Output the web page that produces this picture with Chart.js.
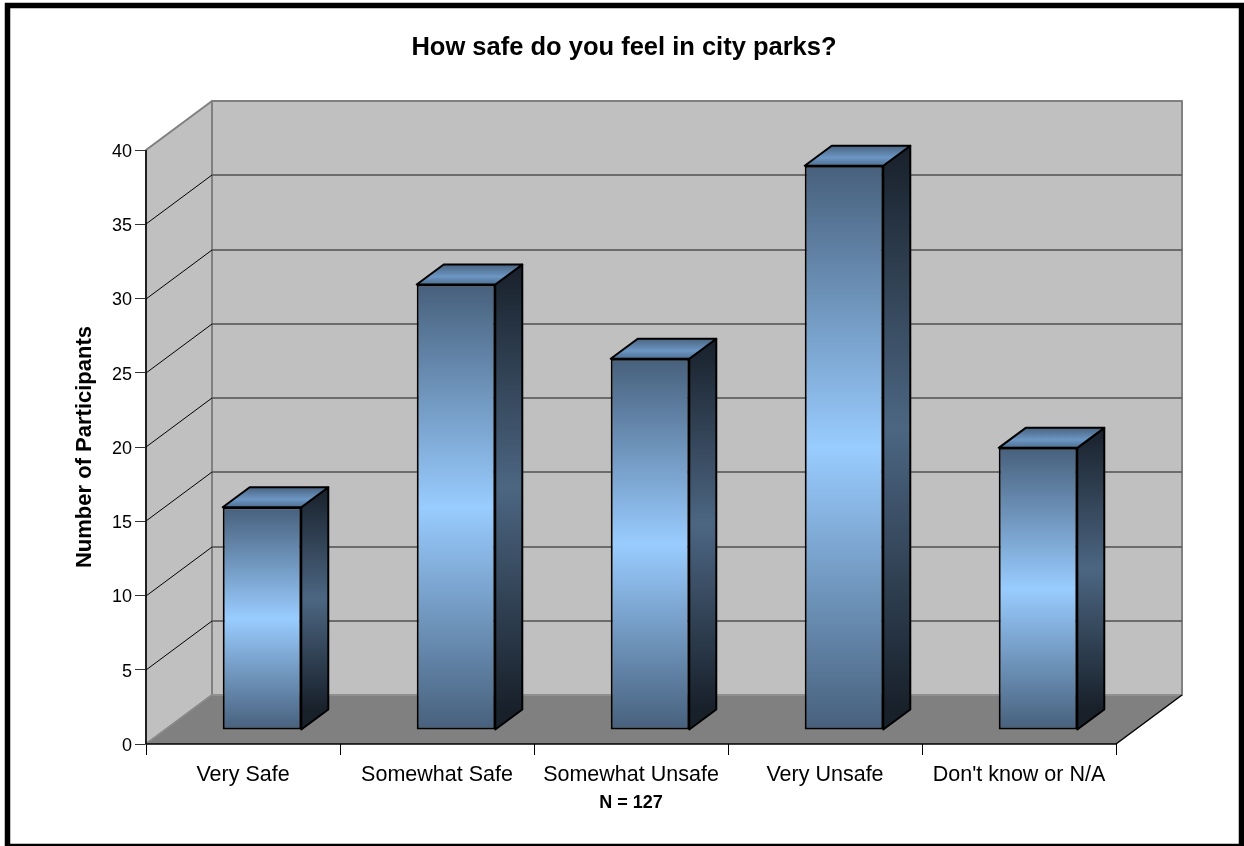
<!DOCTYPE html>
<html>
<head>
<meta charset="utf-8">
<title>How safe do you feel in city parks?</title>
<script src="https://cdn.jsdelivr.net/npm/chart.js@4"></script>
<style>
    html, body { margin: 0; padding: 0; background: #fff; }
    #chartBox { position: absolute; left: 0; top: 0; width: 1244px; height: 846px; }
</style>
</head>
<body>
<div id="chartBox"><canvas id="BarChart" width="1244" height="846"></canvas></div>
<script>
// data
const categories = ['Very Safe', 'Somewhat Safe', 'Somewhat Unsafe', 'Very Unsafe', "Don't know or N/A"];
const participants = [15, 30, 25, 38, 19];
const yTickLabels = ['0', '5', '10', '15', '20', '25', '30', '35', '40'];

const fontName = '"Liberation Sans", Arial, sans-serif';

// how far the box of the 3D scene and the bars go "back"
const wallDepth = { x: 66, y: -49 };
const barShift = { x: 19, y: -14 };
const barDepth = { x: 27, y: -20 };

function vGradient(ctx, top, bottom, stops) {
    const g = ctx.createLinearGradient(0, top, 0, bottom);
    stops.forEach(s => g.addColorStop(s[0], s[1]));
    return g;
}

const frontStops = [[0, '#47607c'], [0.5, '#99ccff'], [1, '#47607c']];
const sideStops = [[0, '#18202a'], [0.5, '#4c6682'], [1, '#18202a']];
const topStops = [[0, '#4a6480'], [0.6, '#6c96c4'], [1, '#4f6f90']];

function poly(ctx, pts, fill, stroke, width) {
    ctx.beginPath();
    pts.forEach((p, i) => i ? ctx.lineTo(p[0], p[1]) : ctx.moveTo(p[0], p[1]));
    ctx.closePath();
    if (fill) { ctx.fillStyle = fill; ctx.fill(); }
    if (stroke) { ctx.strokeStyle = stroke; ctx.lineWidth = width; ctx.lineJoin = 'round'; ctx.stroke(); }
}

function line(ctx, x1, y1, x2, y2, color, width) {
    ctx.beginPath();
    ctx.moveTo(x1, y1);
    ctx.lineTo(x2, y2);
    ctx.strokeStyle = color;
    ctx.lineWidth = width;
    ctx.stroke();
}

// 1. frame + walls + floor, behind everything
const scenePlugin = {
    id: 'scene3d',
    beforeDraw(chart) {
        const { ctx, width, height } = chart;
        ctx.save();
        ctx.fillStyle = '#fff';
        ctx.fillRect(0, 0, width, height);
        ctx.strokeStyle = '#000';
        ctx.lineWidth = 5.5;
        ctx.strokeRect(7.5, 5.5, 1234, 841);
        ctx.restore();
    },
    beforeDatasetsDraw(chart) {
        const { ctx, chartArea: { left, right, top, bottom }, scales: { y } } = chart;
        const dx = wallDepth.x, dy = wallDepth.y;
        ctx.save();
        // back wall
        poly(ctx, [[left + dx, top + dy], [right + dx, top + dy], [right + dx, bottom + dy], [left + dx, bottom + dy]], '#c0c0c0', '#808080', 2);
        // side wall
        poly(ctx, [[left, top], [left + dx, top + dy], [left + dx, bottom + dy], [left, bottom]], '#c0c0c0', '#808080', 2);
        // grid lines for every tick in between
        y.ticks.forEach(t => {
            if (t.value === y.min || t.value === y.max) return;
            const py = Math.round(y.getPixelForValue(t.value));
            line(ctx, left, py, left + dx, py + dy, '#000', 1);
            line(ctx, left + dx, py + dy, right + dx, py + dy, '#505050', 1.5);
        });
        // floor
        poly(ctx, [[left, bottom], [left + dx, bottom + dy], [right + dx, bottom + dy], [right, bottom]], '#808080');
        line(ctx, left + dx, bottom + dy, right + dx, bottom + dy, '#909090', 2);
        line(ctx, left, bottom, left + dx, bottom + dy, '#909090', 1);
        line(ctx, right, bottom, right + dx, bottom + dy, '#000', 1.5);
        line(ctx, left, top, left, bottom, '#000', 1.5);
        line(ctx, left, bottom, right, bottom, '#000', 1.5);
        ctx.restore();
        // the front faces get drawn by the bar controller, moved into the middle of the depth
        ctx.save();
        ctx.translate(barShift.x, barShift.y);
        // top + side faces first
        chart.getDatasetMeta(0).data.forEach(bar => {
            const half = bar.width / 2;
            const l = bar.x - half, r = bar.x + half;
            const ex = barDepth.x, ey = barDepth.y;
            poly(ctx, [[r, bar.y], [r + ex, bar.y + ey], [r + ex, bar.base + ey], [r, bar.base]],
                vGradient(ctx, bar.y + ey, bar.base + ey, sideStops), '#000', 2);
            poly(ctx, [[l, bar.y], [l + ex, bar.y + ey], [r + ex, bar.y + ey], [r, bar.y]],
                vGradient(ctx, bar.y + ey, bar.y, topStops), '#000', 2);
        });
    },
    afterDatasetsDraw(chart) {
        chart.ctx.restore();
    }
};

const config = {
    type: 'bar',
    data: {
        labels: categories,
        datasets: [{
            label: 'Number of Participants',
            data: participants,
            barPercentage: 0.405,
            categoryPercentage: 1,
            borderColor: '#000',
            borderWidth: 2,
            borderSkipped: false,
            backgroundColor(c) {
                if (c.type !== 'data') return '#99ccff';
                const yScale = c.chart.scales.y;
                const top = yScale.getPixelForValue(c.raw);
                const base = yScale.getPixelForValue(0);
                if (!Number.isFinite(top) || !Number.isFinite(base)) return '#99ccff';
                return vGradient(c.chart.ctx, top, base, frontStops);
            }
        }]
    },
    options: {
        responsive: false,
        animation: false,
        events: [],
        layout: { padding: { left: 4, right: 0, top: 0, bottom: 0 } },
        scales: {
            x: {
                afterFit(scale) { scale.height = 102; },
                grid: { drawOnChartArea: false, tickLength: 11, color: '#000', lineWidth: 1 },
                border: { display: false },
                ticks: { color: '#000', font: { family: fontName, size: 21.5 }, padding: 7, maxRotation: 0, autoSkip: false },
                title: {
                    display: true,
                    text: 'N = 127',
                    color: '#000',
                    font: { family: fontName, size: 18, weight: 'bold' },
                    padding: { top: 0, bottom: 32 }
                }
            },
            y: {
                min: 0,
                max: 40,
                afterFit(scale) { scale.width = 142; },
                afterBuildTicks(scale) {
                    scale.ticks = yTickLabels.map(l => ({ value: Number(l) }));
                },
                grid: { drawOnChartArea: false, tickLength: 11, color: '#333', lineWidth: 1 },
                border: { display: false },
                ticks: {
                    color: '#000',
                    // blank first line + tight line height: pushes the digits down ~2px onto the tick
                    font: { family: fontName, size: 18, lineHeight: 0.2 },
                    padding: 3,
                    callback: (value, index) => ['', yTickLabels[index]]
                },
                title: {
                    display: true,
                    text: 'Number of Participants',
                    color: '#000',
                    font: { family: fontName, size: 22, weight: 'bold' },
                    padding: { top: 67.8, bottom: 0 }
                }
            },
            // empty strip on the right, keeps the page title centred on the whole page
            rightSpace: {
                type: 'linear',
                position: 'right',
                afterFit(scale) { scale.width = 128; },
                grid: { display: false },
                border: { display: false },
                ticks: { display: false }
            }
        },
        plugins: {
            legend: { display: false },
            tooltip: { enabled: false },
            title: {
                display: true,
                text: 'How safe do you feel in city parks?',
                color: '#000',
                font: { family: fontName, size: 25.5, weight: 'bold' },
                padding: { top: 32.5, bottom: 86.9 }
            }
        }
    },
    plugins: [scenePlugin]
};

new Chart(document.getElementById('BarChart'), config);
</script>
</body>
</html>
